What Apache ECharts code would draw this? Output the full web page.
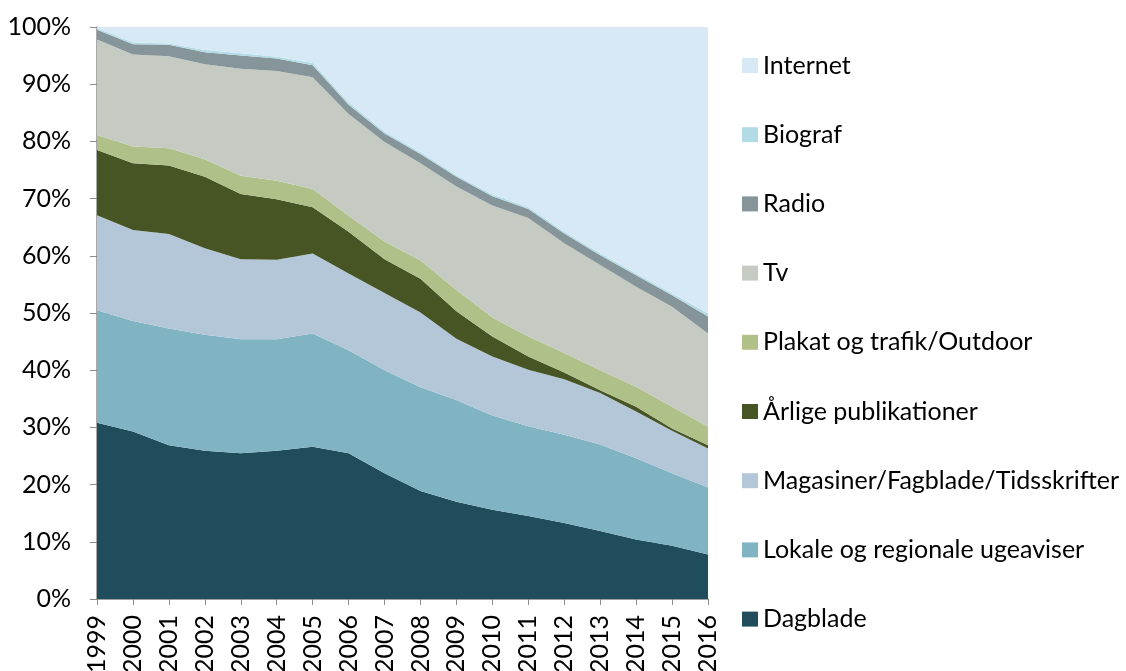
<!DOCTYPE html>
<html>
<head>
<meta charset="utf-8">
<script src="https://cdn.jsdelivr.net/npm/echarts@6/dist/echarts.min.js"></script>
<style>
  html, body { margin: 0; padding: 0; background: #fff; }
  #chart { width: 1126px; height: 671px; }
</style>
</head>
<body>
<div id="chart"></div>
<script>
// Share of advertising spend by media, 1999–2016 (percent of total)
const years = ['1999','2000','2001','2002','2003','2004','2005','2006','2007','2008',
               '2009','2010','2011','2012','2013','2014','2015','2016'];

const dagblade  = [30.8, 29.3, 26.9, 25.9, 25.5, 25.9, 26.6, 25.5, 22.0, 18.9, 17.0, 15.6, 14.5, 13.3, 11.9, 10.4, 9.3, 7.8];
const lokale    = [19.7, 19.3, 20.4, 20.3, 19.9, 19.5, 19.8, 18.0, 18.0, 18.1, 17.8, 16.5, 15.7, 15.4, 15.1, 14.2, 12.7, 11.7];
const magasiner = [16.6, 15.9, 16.5, 15.1, 14.0, 13.9, 14.0, 13.4, 13.5, 13.1, 10.7, 10.3, 9.9, 9.7, 9.0, 8.2, 7.4, 6.8];
const aarlige   = [11.4, 11.7, 12.0, 12.5, 11.4, 10.6, 8.1, 7.3, 5.9, 5.9, 4.8, 3.5, 2.3, 1.2, 0.5, 0.8, 0.4, 0.6];
const plakat    = [2.6, 2.9, 3.0, 3.1, 3.2, 3.2, 3.2, 2.8, 3.1, 3.2, 3.7, 3.3, 3.5, 3.4, 3.5, 3.5, 3.8, 3.2];
const tv        = [16.7, 16.1, 16.1, 16.6, 18.7, 19.2, 19.5, 17.8, 17.4, 17.0, 18.1, 19.6, 20.7, 19.2, 18.4, 17.5, 17.5, 16.3];
const radio     = [1.7, 1.8, 2.0, 2.1, 2.3, 2.2, 2.1, 1.6, 1.5, 1.6, 1.7, 1.6, 1.6, 1.7, 1.7, 2.0, 2.0, 3.0];
const biograf   = [0.3, 0.3, 0.2, 0.4, 0.4, 0.3, 0.4, 0.4, 0.3, 0.3, 0.3, 0.3, 0.3, 0.3, 0.3, 0.3, 0.3, 0.5];
const internet  = [0.2, 2.7, 2.9, 4.0, 4.6, 5.2, 6.3, 13.2, 18.3, 21.9, 25.9, 29.3, 31.5, 35.8, 39.6, 43.1, 46.6, 50.1];

const yTicks = ['0%','10%','20%','30%','40%','50%','60%','70%','80%','90%','100%'];

// bottom-to-top stacking order
const layers = [
  { name: 'Dagblade', data: dagblade, color: '#1f4d5b' },
  { name: 'Lokale og regionale ugeaviser', data: lokale, color: '#80b4c3' },
  { name: 'Magasiner/Fagblade/Tidsskrifter', data: magasiner, color: '#b3c7d8' },
  { name: 'Årlige publikationer', data: aarlige, color: '#465523' },
  { name: 'Plakat og trafik/Outdoor', data: plakat, color: '#afc089' },
  { name: 'Tv', data: tv, color: '#c5cbc3' },
  { name: 'Radio', data: radio, color: '#85959a' },
  { name: 'Biograf', data: biograf, color: '#b2dbe5' },
  { name: 'Internet', data: internet, color: '#d8e9f6' }
];

const font = 'Lato, "Open Sans", sans-serif';
const fs = 25;

const chart = echarts.init(document.getElementById('chart'), null, { renderer: 'canvas' });

chart.setOption({
  animation: false,
  backgroundColor: '#ffffff',
  grid: {
    left: 97, right: 418, top: 27, bottom: 72,
    containLabel: false,
    outerBoundsMode: 'none'
  },
  legend: {
    orient: 'vertical',
    left: 737,
    top: 48,
    icon: 'rect',
    itemWidth: 16,
    itemHeight: 15,
    itemGap: 44.2,
    data: layers.map(l => l.name).reverse(),
    textStyle: { fontFamily: font, fontSize: fs, color: '#000', lineHeight: 25 }
  },
  xAxis: {
    type: 'category',
    data: years,
    boundaryGap: false,
    axisLine: { lineStyle: { color: '#8c8c8c', width: 1.5 } },
    axisTick: { show: true, length: 6, lineStyle: { color: '#8c8c8c' } },
    axisLabel: {
      interval: 0,
      rotate: 90,
      margin: 16,
      fontFamily: font,
      fontSize: fs,
      color: '#000'
    },
    splitLine: { show: false }
  },
  yAxis: {
    type: 'value',
    min: 0,
    max: 100,
    interval: 10,
    axisLine: { show: true, lineStyle: { color: '#8c8c8c', width: 1.5 } },
    axisTick: { show: true, length: 7, lineStyle: { color: '#8c8c8c' } },
    axisLabel: {
      margin: 26,
      fontFamily: font,
      fontSize: fs,
      color: '#000',
      formatter: v => yTicks[Math.round(v / 10)]
    },
    splitLine: { show: true, lineStyle: { color: '#d4d4d4', width: 1 } }
  },
  series: layers.map(l => ({
    name: l.name,
    type: 'line',
    stack: 'share',
    data: l.data,
    symbol: 'none',
    showSymbol: false,
    lineStyle: { width: 0 },
    itemStyle: { color: l.color },
    areaStyle: { color: l.color, opacity: 1 },
    emphasis: { disabled: true }
  }))
});
</script>
</body>
</html>
